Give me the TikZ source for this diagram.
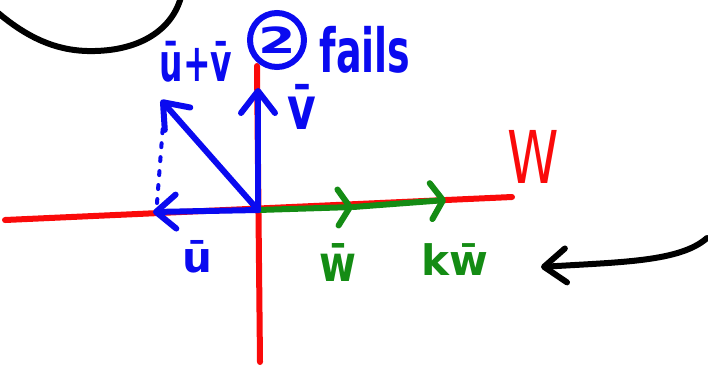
\documentclass[tikz,border=0pt]{standalone}
\usepackage{fontspec}
\setmainfont{DejaVu Sans}
\usetikzlibrary{arrows.meta}
\definecolor{pblue}{RGB}{10,10,240}
\definecolor{pred}{RGB}{250,10,10}
\definecolor{pgreen}{RGB}{20,140,20}
\begin{document}
\begin{tikzpicture}[x=1pt,y=-1pt,
  stroke/.style={line width=6pt,line cap=round,line join=round},
  barb/.style={-{Straight Barb[length=#1,width=34pt,round]}},
  gbarb/.style={-{Straight Barb[length=12pt,width=36pt,round]}},
  lab/.style={inner sep=0pt,outer sep=0pt,font=\bfseries}]
\useasboundingbox (0,0) rectangle (708,368);
\fill[white] (0,0) rectangle (708,368);

% black arc at top left
\draw[stroke,black] (-3,12) .. controls (30,40) and (60,52) .. (95,51)
      .. controls (140,50) and (172,30) .. (181,-3);

% coordinates
\coordinate (O) at (258,210);
\coordinate (axL) at (5,220);
\coordinate (axR) at (512,197);
\coordinate (axT) at (257,66);
\coordinate (axB) at (260,362);
\coordinate (U) at (153,212);
\coordinate (V) at (258,88);
\coordinate (UV) at (161,100);
\coordinate (W1) at (353,207);
\coordinate (W2) at (446,200);
\coordinate (D1) at (157,203);
\coordinate (D2) at (163,125);
\coordinate (A1) at (707,238);
\coordinate (A2) at (541,267);

% red axes
\draw[stroke,pred] (axL) -- (axR);
\draw[stroke,pred] (axT) -- (axB);

% green vectors
\draw[stroke,pgreen,gbarb] (O) -- (W1);
\draw[stroke,pgreen,gbarb] (W1) -- (W2);

% blue vectors
\draw[stroke,pblue,barb=22pt] (O) -- (V);
\draw[stroke,pblue,barb=20pt] (O) -- (U);
\draw[stroke,pblue,barb=22pt] (O) -- (UV);
\draw[pblue,line width=4pt,line cap=round,dash pattern=on 4pt off 10pt] (D1) -- (D2);

% black arrow
\draw[stroke,black,barb=22pt] (A1) .. controls (680,262) and (620,262) .. (A2);

% labels
\node[lab,text=pblue,font=\bfseries\fontsize{33}{33}\selectfont] (luv) at (196,62) {\scalebox{1}[1.6]{ū+v̄}};
\node[lab,text=pblue,font=\bfseries\fontsize{36}{36}\selectfont] (c2) at (277,40) {\scalebox{1.5}[1]{2}};
\draw[pblue,line width=6pt] (c2) circle[radius=27pt];
\node[lab,text=pblue,font=\bfseries\fontsize{38}{38}\selectfont] (lfails) at (365,50) {\scalebox{1}[1.6]{fails}};
\node[lab,text=pblue,font=\bfseries\fontsize{44}{44}\selectfont] (lv) at (302,107) {\scalebox{1}[1.35]{v̄}};
\node[lab,text=pblue,font=\bfseries\fontsize{42}{42}\selectfont] (lu) at (197,257) {ū};
\node[lab,text=pgreen,font=\bfseries\fontsize{40}{40}\selectfont] (lw) at (338,262) {\scalebox{1}[1.25]{w̄}};
\node[lab,text=pgreen,font=\bfseries\fontsize{42}{42}\selectfont] (lkw) at (455,260) {kw̄};
\node[lab,text=pred,font=\mdseries\fontsize{52}{52}\selectfont] (lW) at (533,157) {\scalebox{1}[1.4]{W}};
\end{tikzpicture}
\end{document}
